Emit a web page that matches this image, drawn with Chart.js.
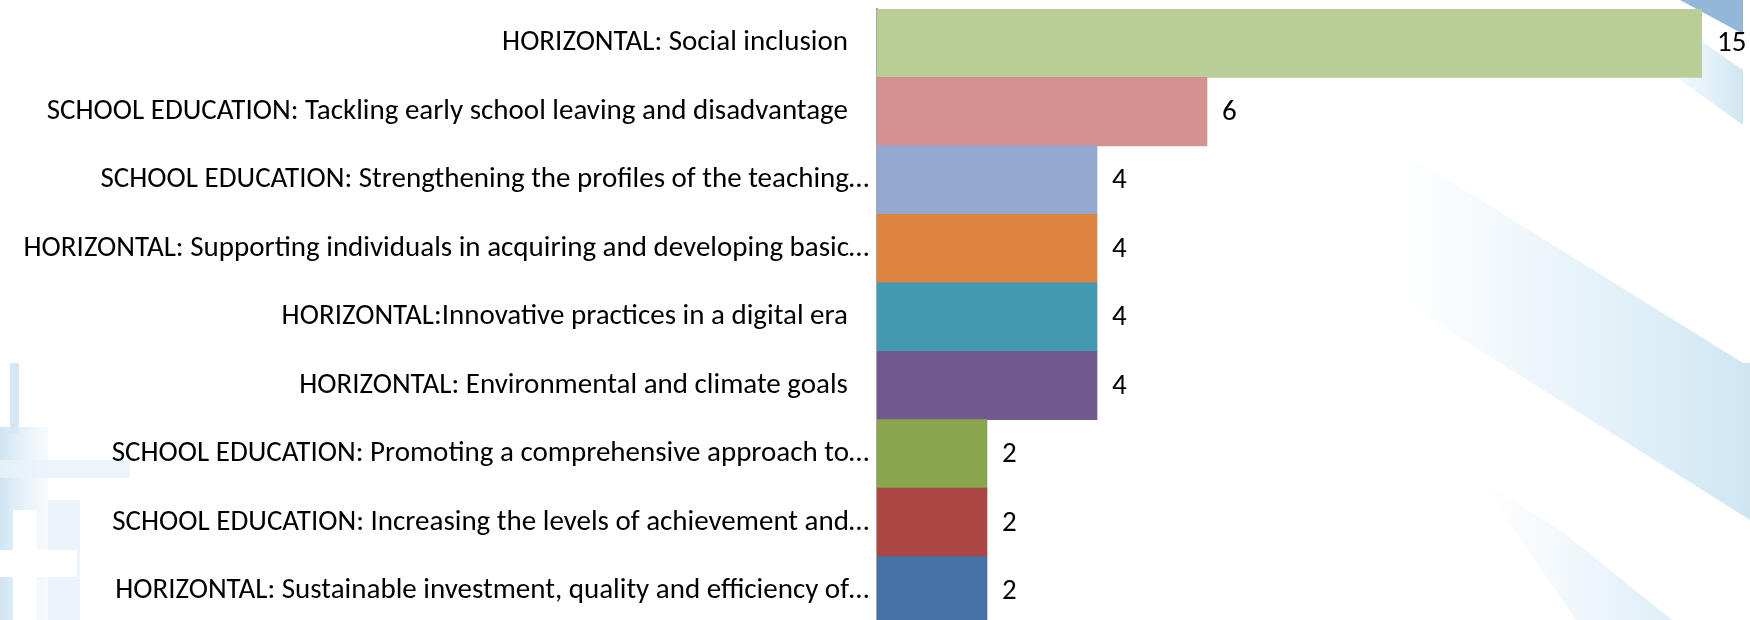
<!DOCTYPE html>
<html>
<head>
<meta charset="utf-8">
<script src="https://cdn.jsdelivr.net/npm/chart.js@4.4.1/dist/chart.umd.min.js"></script>
<style>
    html, body { margin: 0; padding: 0; background: #fff; overflow: hidden; }
    #wrap { position: relative; width: 1750px; height: 626px; }
    #fondo { position: absolute; left: 0; top: 0; }
    #myChart { position: absolute; left: 0; top: 0; }
</style>
</head>
<body>
<div id="wrap">
    <!-- decoracion de la diapositiva original -->
    <svg id="fondo" width="1750" height="626">
        <defs>
            <linearGradient id="bandaClara" x1="0" y1="0" x2="1" y2="0">
                <stop offset="0" stop-color="#e4f1f9" stop-opacity="0"/>
                <stop offset="0.5" stop-color="#e2f0f8" stop-opacity="0.8"/>
                <stop offset="1" stop-color="#cfe6f2"/>
            </linearGradient>
            <linearGradient id="bloqueIzq" x1="0" y1="0" x2="1" y2="0">
                <stop offset="0" stop-color="#cfe4f3"/>
                <stop offset="1" stop-color="#e9f3fa" stop-opacity="0.4"/>
            </linearGradient>
        </defs>
        <polygon points="1680,0 1743,0 1743,34" fill="#93b7d9"/>
        <polygon points="1660,30 1700,40 1743,70 1743,125 1680,80" fill="url(#bandaClara)"/>
        <polygon points="1400,150 1743,363 1750,363 1750,520 1400,300" fill="url(#bandaClara)"/>
        <polygon points="1480,480 1560,530 1680,626 1580,626" fill="url(#bandaClara)" opacity="0.7"/>
        <rect x="10" y="363" width="9" height="70" fill="#d3e7f4"/>
        <rect x="0" y="427" width="48" height="199" fill="url(#bloqueIzq)"/>
        <rect x="48" y="500" width="32" height="126" fill="#eaf4fa"/>
        <rect x="0" y="460" width="130" height="18" fill="#e8f2f9" opacity="0.8"/>
        <rect x="13" y="510" width="24" height="116" fill="#ffffff"/>
        <rect x="0" y="550" width="77" height="27" fill="#ffffff"/>
    </svg>
    <canvas id="myChart" width="1750" height="626"></canvas>
</div>
<script>
const categorias = [
    "HORIZONTAL: Social inclusion",
    "SCHOOL EDUCATION: Tackling early school leaving and disadvantage",
    "SCHOOL EDUCATION: Strengthening the profiles of the teaching…",
    "HORIZONTAL: Supporting individuals in acquiring and developing basic…",
    "HORIZONTAL:Innovative practices in a digital era",
    "HORIZONTAL: Environmental and climate goals",
    "SCHOOL EDUCATION: Promoting a comprehensive approach to…",
    "SCHOOL EDUCATION: Increasing the levels of achievement and…",
    "HORIZONTAL: Sustainable investment, quality and efficiency of…"
]
const valores = [15, 6, 4, 4, 4, 4, 2, 2, 2]
const colores = ["#b9ce96", "#d39191", "#95a9d0", "#db843d", "#4299b0", "#71588f", "#89a54e", "#aa4643", "#4572a7"]
const ejeMin = 0
const ejeMax = 15

const fuente = "Carlito, Lato, sans-serif"
const tamFuente = 29


///ETIQUETAS DE VALOR AL FINAL DE CADA BARRA
const etiquetasValor = {
    id: "etiquetasValor",
    afterDatasetsDraw(chart) {
        const ctx = chart.ctx
        const meta = chart.getDatasetMeta(0)
        ctx.save()
        ctx.font = `${tamFuente}px ${fuente}`
        ctx.fillStyle = "#000"
        ctx.textAlign = "left"
        ctx.textBaseline = "middle"
        meta.data.forEach((barra, i) => {
            ctx.fillText(String(valores[i]), barra.x + 15, barra.y + 1)
        })
        ctx.restore()
    }
}


///GRAFICA
const config = {
    type: "bar",
    data: {
        labels: categorias,
        datasets: [{
            data: valores,
            backgroundColor: colores,
            borderWidth: 0,
            categoryPercentage: 1,
            barPercentage: 1
        }]
    },
    options: {
        indexAxis: "y",
        responsive: false,
        animation: false,
        layout: { padding: { top: 9, right: 48, bottom: 1, left: 0 } },
        plugins: {
            legend: { display: false },
            tooltip: { enabled: false }
        },
        scales: {
            x: {
                display: false,
                min: ejeMin,
                max: ejeMax
            },
            y: {
                afterFit: (escala) => {
                    escala.width = 877
                    escala.paddingTop = 0
                    escala.paddingBottom = 0
                },
                grid: { display: false },
                border: { display: true, color: "#a6a6a6", width: 2 },
                ticks: {
                    autoSkip: false,
                    padding: 0,
                    color: "#000",
                    font: { family: fuente, size: tamFuente },
                    callback: function (valor, indice) {
                        const texto = categorias[indice]
                        return texto.endsWith("…") ? texto : texto + "\u2002 "
                    }
                }
            }
        }
    },
    plugins: [etiquetasValor]
}

new Chart(document.getElementById("myChart"), config)
</script>
</body>
</html>
